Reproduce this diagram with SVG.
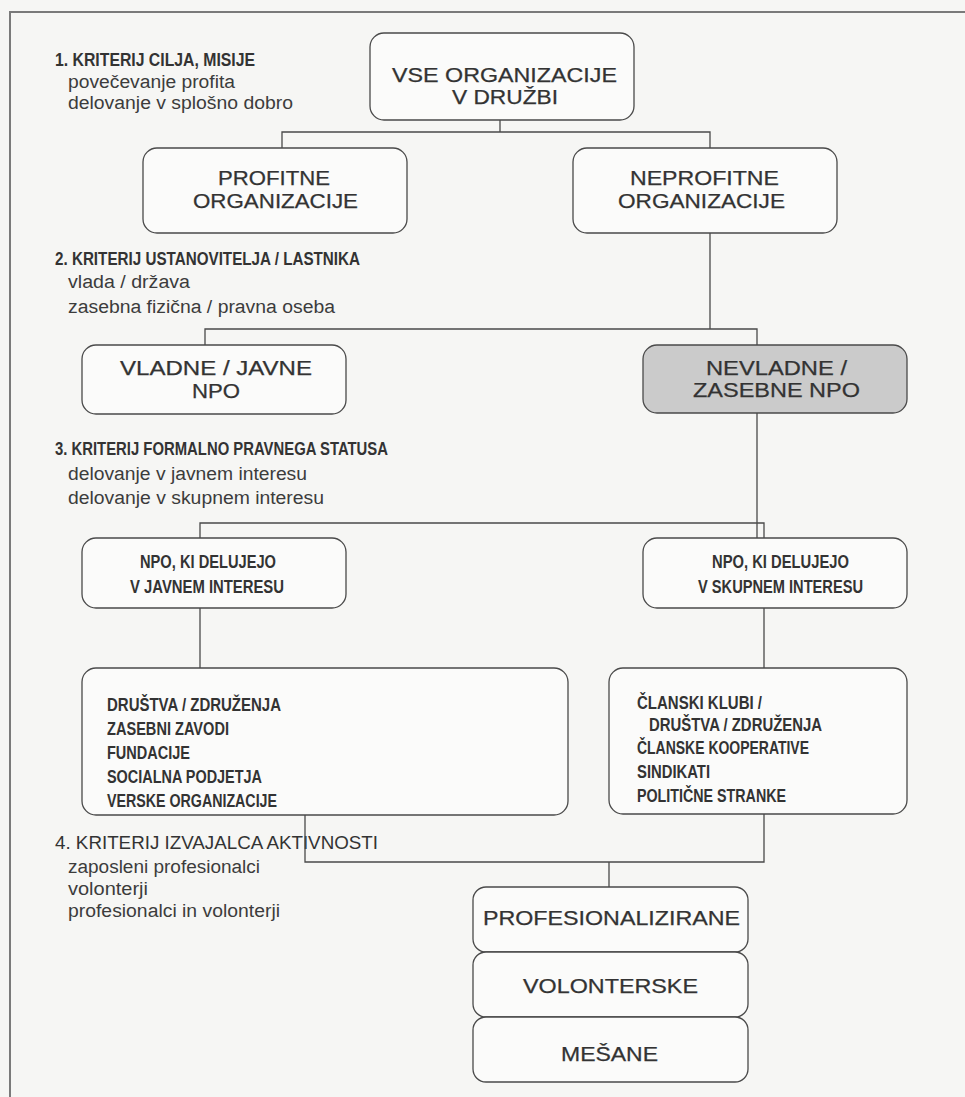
<svg xmlns="http://www.w3.org/2000/svg" width="965" height="1097" viewBox="0 0 965 1097">
  <style>
    .box { fill: #fbfbfa; stroke: #4a4a4a; stroke-width: 1.3; }
    .box-grey { fill: #cbcbcb; stroke: #4a4a4a; stroke-width: 1.3; }
    .conn { fill: none; stroke: #4a4a4a; stroke-width: 1.3; }
    .frame { fill: none; stroke: #7a7a7a; stroke-width: 2; }
    .node { font-family: "Liberation Sans", Arial, sans-serif; font-size: 20px; fill: #333; stroke: #333; stroke-width: 0.25; text-anchor: middle; }
    .crit { font-family: "Liberation Sans", Arial, sans-serif; font-size: 18px; font-weight: bold; fill: #333; }
    .crit-r { font-family: "Liberation Sans", Arial, sans-serif; font-size: 18px; fill: #333; }
    .sub { font-family: "Liberation Sans", Arial, sans-serif; font-size: 18px; fill: #3c3c3c; }
    .cond { font-family: "Liberation Sans", Arial, sans-serif; font-size: 19px; font-weight: bold; fill: #333; }
    .cond-c { font-family: "Liberation Sans", Arial, sans-serif; font-size: 18px; font-weight: bold; fill: #333; text-anchor: middle; }
  </style>

  <!-- page -->
  <rect x="0" y="0" width="965" height="1097" fill="#f6f6f4"/>
  <path class="frame" d="M965,12 H10 V1097"/>

  <!-- criteria captions -->
  <g id="criterij-1">
    <text class="crit" x="55" y="66" textLength="200" lengthAdjust="spacingAndGlyphs">1. KRITERIJ CILJA, MISIJE</text>
    <text class="sub" x="68" y="88" textLength="167" lengthAdjust="spacingAndGlyphs">povečevanje profita</text>
    <text class="sub" x="68" y="109" textLength="225" lengthAdjust="spacingAndGlyphs">delovanje v splošno dobro</text>
  </g>
  <g id="criterij-2">
    <text class="crit" x="55" y="265" textLength="305" lengthAdjust="spacingAndGlyphs">2. KRITERIJ USTANOVITELJA / LASTNIKA</text>
    <text class="sub" x="68" y="288" textLength="122" lengthAdjust="spacingAndGlyphs">vlada / država</text>
    <text class="sub" x="68" y="313" textLength="267" lengthAdjust="spacingAndGlyphs">zasebna fizična / pravna oseba</text>
  </g>
  <g id="criterij-3">
    <text class="crit" x="55" y="455" textLength="333" lengthAdjust="spacingAndGlyphs">3. KRITERIJ FORMALNO PRAVNEGA STATUSA</text>
    <text class="sub" x="68" y="480" textLength="239" lengthAdjust="spacingAndGlyphs">delovanje v javnem interesu</text>
    <text class="sub" x="68" y="504" textLength="256" lengthAdjust="spacingAndGlyphs">delovanje v skupnem interesu</text>
  </g>
  <g id="criterij-4">
    <text class="crit-r" x="55" y="849" textLength="323" lengthAdjust="spacingAndGlyphs">4. KRITERIJ IZVAJALCA AKTIVNOSTI</text>
    <text class="sub" x="68" y="873" textLength="192" lengthAdjust="spacingAndGlyphs">zaposleni profesionalci</text>
    <text class="sub" x="68" y="895" textLength="80" lengthAdjust="spacingAndGlyphs">volonterji</text>
    <text class="sub" x="68" y="917" textLength="212" lengthAdjust="spacingAndGlyphs">profesionalci in volonterji</text>
  </g>

  <!-- connectors -->
  <g id="connectors">
    <path class="conn" d="M500,120 V132 M282,148 V132 H710 V148"/>
    <path class="conn" d="M710,233 V329 M205,345 V329 H757 V345"/>
    <path class="conn" d="M757,413 V538 M200,538 V523 H764 V538"/>
    <path class="conn" d="M200,608 V668"/>
    <path class="conn" d="M764,608 V668"/>
    <path class="conn" d="M305,815 V862 H764 V814 M609,862 V887"/>
  </g>

  <!-- nodes -->
  <g id="vse-organizacije">
    <rect class="box" x="370" y="33" width="264" height="87" rx="14"/>
    <text class="node" x="504.5" y="82" textLength="225" lengthAdjust="spacingAndGlyphs">VSE ORGANIZACIJE</text>
    <text class="node" x="505" y="104" textLength="106" lengthAdjust="spacingAndGlyphs">V DRUŽBI</text>
  </g>
  <g id="profitne">
    <rect class="box" x="143" y="148" width="264" height="85" rx="14"/>
    <text class="node" x="274" y="185" textLength="112" lengthAdjust="spacingAndGlyphs">PROFITNE</text>
    <text class="node" x="275.5" y="208" textLength="165" lengthAdjust="spacingAndGlyphs">ORGANIZACIJE</text>
  </g>
  <g id="neprofitne">
    <rect class="box" x="573" y="148" width="264" height="85" rx="14"/>
    <text class="node" x="704.5" y="185" textLength="149" lengthAdjust="spacingAndGlyphs">NEPROFITNE</text>
    <text class="node" x="701.5" y="208" textLength="167" lengthAdjust="spacingAndGlyphs">ORGANIZACIJE</text>
  </g>
  <g id="vladne-javne">
    <rect class="box" x="82" y="345" width="264" height="69" rx="14"/>
    <text class="node" x="216" y="375" textLength="192" lengthAdjust="spacingAndGlyphs">VLADNE / JAVNE</text>
    <text class="node" x="216" y="398" textLength="48" lengthAdjust="spacingAndGlyphs">NPO</text>
  </g>
  <g id="nevladne-zasebne">
    <rect class="box-grey" x="643" y="345" width="264" height="68" rx="14"/>
    <text class="node" x="776.5" y="375" textLength="141" lengthAdjust="spacingAndGlyphs">NEVLADNE /</text>
    <text class="node" x="776.5" y="397" textLength="167" lengthAdjust="spacingAndGlyphs">ZASEBNE NPO</text>
  </g>
  <g id="npo-javni-interes">
    <rect class="box" x="82" y="538" width="264" height="70" rx="14"/>
    <text class="cond-c" x="208" y="568" textLength="136" lengthAdjust="spacingAndGlyphs">NPO, KI DELUJEJO</text>
    <text class="cond-c" x="207" y="593" textLength="154" lengthAdjust="spacingAndGlyphs">V JAVNEM INTERESU</text>
  </g>
  <g id="npo-skupni-interes">
    <rect class="box" x="643" y="538" width="264" height="70" rx="14"/>
    <text class="cond-c" x="780.5" y="568" textLength="137" lengthAdjust="spacingAndGlyphs">NPO, KI DELUJEJO</text>
    <text class="cond-c" x="780.5" y="593" textLength="165" lengthAdjust="spacingAndGlyphs">V SKUPNEM INTERESU</text>
  </g>
  <g id="oblike-javni">
    <rect class="box" x="82" y="668" width="486" height="147" rx="14"/>
    <text class="cond" x="107" y="711" textLength="174" lengthAdjust="spacingAndGlyphs">DRUŠTVA / ZDRUŽENJA</text>
    <text class="cond" x="107" y="735" textLength="122" lengthAdjust="spacingAndGlyphs">ZASEBNI ZAVODI</text>
    <text class="cond" x="107" y="759" textLength="83" lengthAdjust="spacingAndGlyphs">FUNDACIJE</text>
    <text class="cond" x="107" y="783" textLength="155" lengthAdjust="spacingAndGlyphs">SOCIALNA PODJETJA</text>
    <text class="cond" x="107" y="807" textLength="170" lengthAdjust="spacingAndGlyphs">VERSKE ORGANIZACIJE</text>
  </g>
  <g id="oblike-skupni">
    <rect class="box" x="609" y="668" width="298" height="146" rx="14"/>
    <text class="cond" x="637" y="709" textLength="125" lengthAdjust="spacingAndGlyphs">ČLANSKI KLUBI /</text>
    <text class="cond" x="649" y="731" textLength="173" lengthAdjust="spacingAndGlyphs">DRUŠTVA / ZDRUŽENJA</text>
    <text class="cond" x="637" y="754" textLength="172" lengthAdjust="spacingAndGlyphs">ČLANSKE KOOPERATIVE</text>
    <text class="cond" x="637" y="778" textLength="73" lengthAdjust="spacingAndGlyphs">SINDIKATI</text>
    <text class="cond" x="637" y="802" textLength="149" lengthAdjust="spacingAndGlyphs">POLITIČNE STRANKE</text>
  </g>
  <g id="profesionalizirane">
    <rect class="box" x="473" y="887" width="275" height="65" rx="13"/>
    <text class="node" x="611.5" y="925" textLength="257" lengthAdjust="spacingAndGlyphs">PROFESIONALIZIRANE</text>
  </g>
  <g id="volonterske">
    <rect class="box" x="473" y="952" width="275" height="65" rx="13"/>
    <text class="node" x="610.5" y="993" textLength="175" lengthAdjust="spacingAndGlyphs">VOLONTERSKE</text>
  </g>
  <g id="mesane">
    <rect class="box" x="473" y="1017" width="275" height="65" rx="13"/>
    <text class="node" x="609.5" y="1061" textLength="97" lengthAdjust="spacingAndGlyphs">MEŠANE</text>
  </g>
</svg>
